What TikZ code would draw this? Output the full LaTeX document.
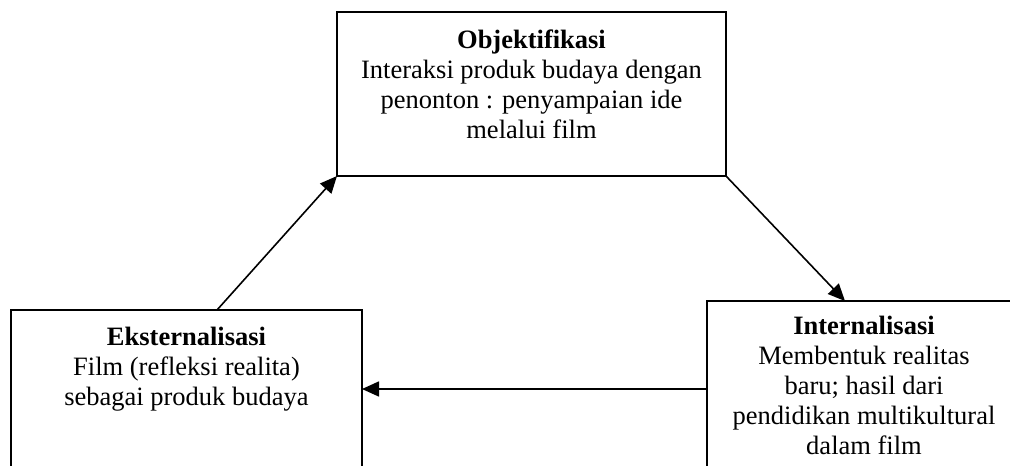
\documentclass[tikz,border=0pt]{standalone}
\usepackage{fontspec}
\setmainfont{Liberation Serif}
\usetikzlibrary{arrows.meta,calc}
\begin{document}
\begin{tikzpicture}[x=1pt,y=-1pt,
  box/.style={draw,line width=1.8pt,inner sep=0pt,outer sep=0pt},
  lbl/.style={align=center,font=\fontsize{26.5}{30}\selectfont,inner sep=0pt,anchor=base},
  arr/.style={line width=1.6pt,-{Triangle[length=17pt,width=15pt]}}]
\useasboundingbox (0,0) rectangle (1010,466);
\clip (0,0) rectangle (1010,466);
\node[box,minimum width=389pt,minimum height=164pt] (obj) at (531.5,94) {};
\node[box,minimum width=351pt,minimum height=210pt] (eks) at (186.5,415) {};
\node[box,minimum width=314pt,minimum height=219pt] (int) at (864,410.5) {};
\node[lbl] (objt) at (531.5,138) {\textbf{Objektifikasi}\\Interaksi produk budaya dengan\\penonton : penyampaian ide\\melalui film};
\node[lbl] (ekst) at (186.5,405) {\textbf{Eksternalisasi}\\Film (refleksi realita)\\sebagai produk budaya};
\node[lbl] (intt) at (864,454) {\textbf{Internalisasi}\\Membentuk realitas\\baru; hasil dari\\pendidikan multikultural\\dalam film};
\coordinate (a1) at ($(eks.north west)+(206,0)$);
\coordinate (a2) at ($(int.north west)+(138,0)$);
\coordinate (a3) at ($(int.north west)+(0,88)$);
\draw[arr] (a1) -- (obj.south west);
\draw[arr] (obj.south east) -- (a2);
\draw[arr] (a3) -- (eks.east |- a3);
\end{tikzpicture}
\end{document}
